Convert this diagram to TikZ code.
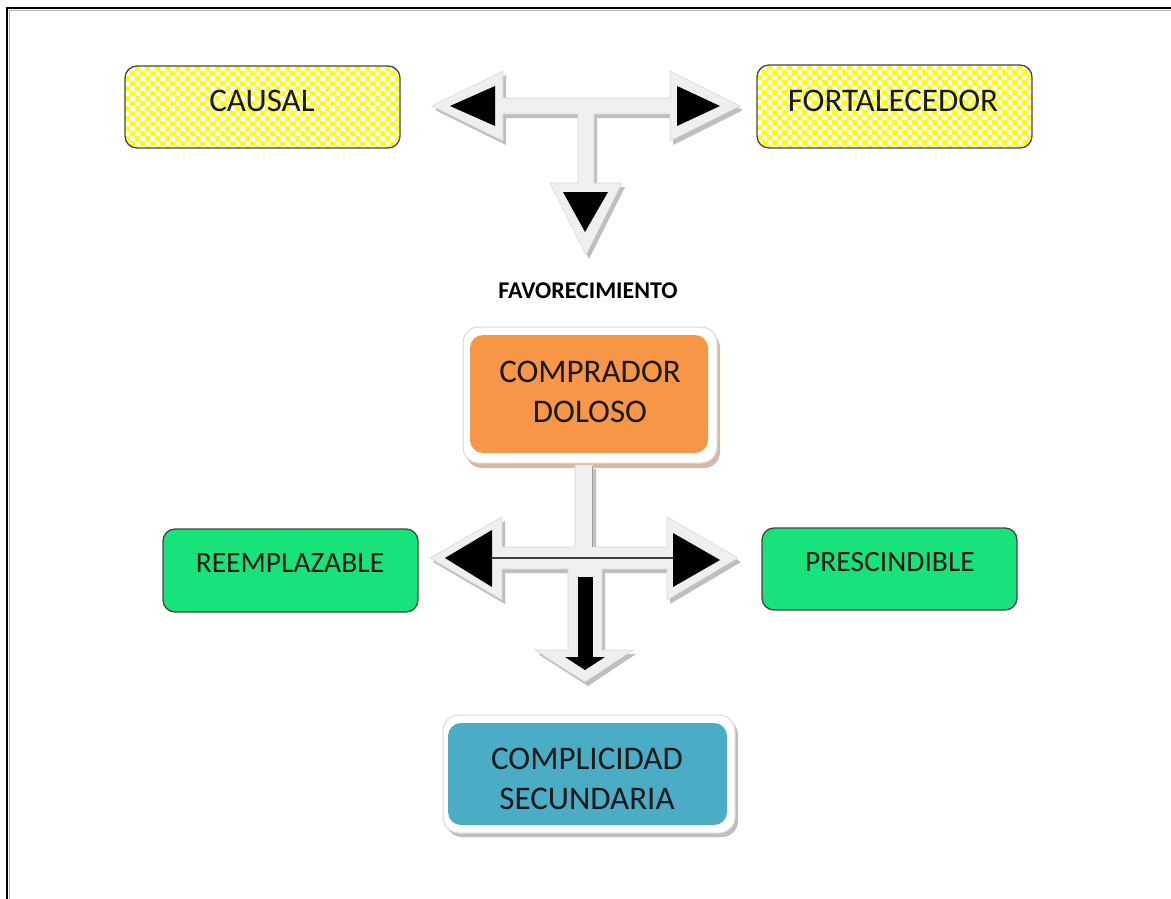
\documentclass[tikz,border=0pt]{standalone}
\usepackage{fontspec}
\setmainfont{Carlito}

\definecolor{chkyellow}{HTML}{FFFF00}
\definecolor{boxgreen}{HTML}{18E27A}
\definecolor{boxorange}{HTML}{F79646}
\definecolor{boxblue}{HTML}{4BACC6}
\definecolor{arrowfill}{HTML}{EFEFEF}
\definecolor{arrowshade}{HTML}{BEBEBE}
\definecolor{edgegray}{HTML}{444444}
\definecolor{framegray}{HTML}{DADADA}
\definecolor{warmshade}{HTML}{D6B9A2}

\tikzset{
  checkbox/.style={rectangle, rounded corners=12pt, draw=edgegray, line width=1.3pt, inner sep=0pt},
  greenbox/.style={rectangle, rounded corners=12pt, draw=edgegray, line width=1.3pt,
    fill=boxgreen, inner sep=0pt},
  whiteframe/.style={rectangle, rounded corners=16pt, fill=white, draw=framegray,
    line width=1pt, inner sep=0pt},
  frameshadow/.style={rectangle, rounded corners=16pt, inner sep=0pt},
  innerbox/.style={rectangle, rounded corners=13pt, inner sep=0pt},
  boxtext/.style={font=\fontsize{33}{40}\selectfont, text=black!90, inner sep=0pt, align=center},
  smalltext/.style={font=\fontsize{29.5}{36}\selectfont, text=black!90, inner sep=0pt, align=center},
  tagtext/.style={font=\bfseries\fontsize{24}{28}\selectfont, text=black, inner sep=0pt},
  blockarrow/.style={fill=arrowfill, draw=arrowfill!90!black, line width=0.6pt, line join=miter},
  blockshadow/.style={fill=arrowshade, draw=none},
  tipfill/.style={fill=black, draw=none},
}

% yellow/white checks (5pt cells) clipped to a rounded box
\newcommand{\checkfill}[4]{%
  \begin{scope}
    \clip[rounded corners=12pt] (#1,#2) rectangle (#3,#4);
    \fill[white] (#1,#2) rectangle (#3,#4);
    \foreach \j in {0,...,17} {
      \pgfmathsetmacro{\off}{mod(\j,2)*5}
      \foreach \i in {0,10,...,280} {
        \fill[chkyellow] ({#1+\i+\off},{#2+5*\j}) rectangle ++(5,5);
      }
    }
  \end{scope}}

\begin{document}
\begin{tikzpicture}[x=1pt, y=-1pt]
\useasboundingbox (0,0) rectangle (1171,899);
\fill[white] (0,0) rectangle (1171,899);

% page frame
\draw[black, line width=2.4pt] (7,899) -- (7,8) -- (1171,8);
\draw[gray!60, line width=0.8pt] (9.5,899) -- (9.5,10.5) -- (1171,10.5);

% ---------- upper boxes ----------
\checkfill{125}{66}{400}{148}
\node[checkbox, minimum width=275pt, minimum height=82pt] (causal) at (262.5,107) {};
\node[boxtext] (causalt) at (262,101) {CAUSAL};
\checkfill{757}{65}{1032}{148}
\node[checkbox, minimum width=275pt, minimum height=83pt] (fort) at (894.5,106.5) {};
\node[boxtext] (fortt) at (893,101) {FORTALECEDOR};

% ---------- upper T arrow ----------
\def\tarrow{(432,106) -- (503,71) -- (503,98) -- (670,98) -- (670,71) -- (740,106)
  -- (670,141) -- (670,114) -- (594,114) -- (594,183) -- (622,183) -- (586,255)
  -- (550,183) -- (578,183) -- (578,114) -- (503,114) -- (503,141) -- cycle}
\fill[blockshadow, shift={(3pt,-4pt)}] \tarrow;
\path[blockarrow] \tarrow;
\fill[tipfill] (450,106) -- (495,86) -- (495,126) -- cycle;
\fill[tipfill] (720,106) -- (677,86) -- (677,126) -- cycle;
\fill[tipfill] (585,232) -- (563,192) -- (608,192) -- cycle;

\node[tagtext] (favor) at (588,291) {FAVORECIMIENTO};

% ---------- comprador doloso ----------
\node[frameshadow, fill=warmshade, minimum width=254pt, minimum height=136pt] (buyershade) at (593,400) {};
\node[whiteframe, minimum width=254pt, minimum height=136pt] (buyerframe) at (590,395) {};
\node[innerbox, fill=boxorange, minimum width=238pt, minimum height=118pt] (buyer) at (589,394) {};
\node[boxtext] (buyert) at (590,392) {COMPRADOR\\DOLOSO};

% ---------- lower cross arrow ----------
\def\crossarrow{(430,558) -- (502,517) -- (502,547) -- (575,547) -- (575,465) -- (593,465)
  -- (593,547) -- (667,547) -- (667,517) -- (738,558) -- (667,600) -- (667,569)
  -- (602,569) -- (602,650) -- (633,650) -- (585,682) -- (535,650) -- (568,650)
  -- (568,569) -- (502,569) -- (502,600) -- cycle}
\fill[blockshadow, shift={(3pt,-4pt)}] \crossarrow;
\path[blockarrow] \crossarrow;
\draw[gray!80, line width=1pt] (592,466) -- (592,547);
\draw[black!75, line width=1.1pt] (492,558) -- (673,558);
\fill[tipfill] (445,558) -- (492,530) -- (492,587) -- cycle;
\fill[tipfill] (720,560) -- (673,533) -- (673,587) -- cycle;
\fill[tipfill] (578,577) rectangle (593,657);
\fill[tipfill] (585,670) -- (565,657) -- (605,657) -- cycle;

% ---------- side boxes ----------
\node[greenbox, minimum width=255pt, minimum height=83pt] (reempl) at (290.5,570.5) {};
\node[smalltext] (reemplt) at (290,563) {REEMPLAZABLE};
\node[greenbox, minimum width=255pt, minimum height=82pt] (presc) at (889.5,569) {};
\node[smalltext] (presct) at (890,562) {PRESCINDIBLE};

% ---------- complicidad secundaria ----------
\node[frameshadow, fill=arrowshade, minimum width=292pt, minimum height=118pt] (compshade) at (592,778) {};
\node[whiteframe, minimum width=292pt, minimum height=118pt] (compframe) at (589,774) {};
\node[innerbox, fill=boxblue, minimum width=279pt, minimum height=102pt] (comp) at (587.5,774) {};
\node[boxtext] (compt) at (587,779) {COMPLICIDAD\\SECUNDARIA};
\end{tikzpicture}
\end{document}
